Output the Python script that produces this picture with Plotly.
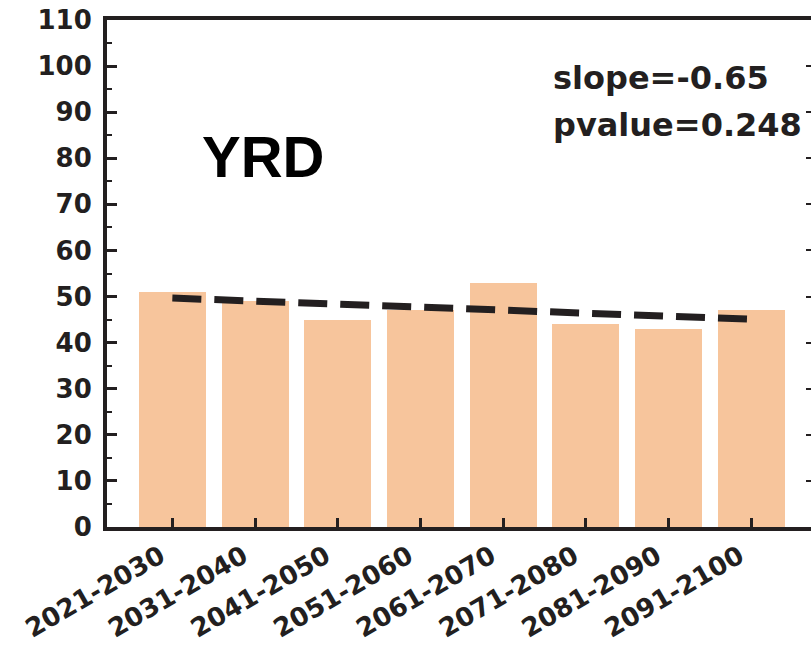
import numpy as np
import plotly.graph_objects as go

categories = ["2021-2030", "2031-2040", "2041-2050", "2051-2060",
              "2061-2070", "2071-2080", "2081-2090", "2091-2100"]
values = [51, 49, 45, 47, 53, 44, 43, 47]
region_label = "YRD"
slope_text = "slope=-0.65"
pvalue_text = "pvalue=0.248"
y_ticks = list(range(0, 111, 10))

DARK = "#231f20"
BAR = "#f7c59c"

idx = np.arange(len(values))
coef = np.polyfit(idx, values, 1)
trend = np.polyval(coef, idx)

fig = go.Figure()
fig.add_trace(go.Bar(x=categories, y=values, marker=dict(color=BAR, line=dict(width=0)),
                     width=0.81, showlegend=False))
fig.add_trace(go.Scatter(x=categories, y=trend, mode="lines",
                         line=dict(color=DARK, width=7, dash="29px,13px"),
                         showlegend=False))
# right-side ticks
fig.add_trace(go.Scatter(x=[categories[0]], y=[0], yaxis="y2", mode="markers",
                         marker=dict(opacity=0), showlegend=False, hoverinfo="skip"))

tickfont = dict(family="DejaVu Sans", size=26, color=DARK, weight="bold")

fig.update_layout(
    width=811, height=650,
    margin=dict(l=107, r=0, t=20, b=123, autoexpand=False),
    paper_bgcolor="white", plot_bgcolor="white",
    bargap=0,
    xaxis=dict(
        type="category", range=[-0.79, 7.72],
        showline=True, linewidth=4, linecolor=DARK, mirror=True,
        ticks="inside", ticklen=9, tickwidth=2.5, tickcolor=DARK,
        tickangle=-30, tickfont=tickfont, showgrid=False, zeroline=False,
        ticklabelshift=-12, automargin=False, ticklabeloverflow="allow",
    ),
    yaxis=dict(
        range=[0, 110], tickvals=y_ticks,
        showline=True, linewidth=4, linecolor=DARK,
        ticks="inside", ticklen=10, tickwidth=2.5, tickcolor=DARK,
        minor=dict(dtick=5, ticks="inside", ticklen=5, tickwidth=2, tickcolor=DARK, showgrid=False),
        tickfont=tickfont, showgrid=False, zeroline=False, ticklabelstandoff=6,
        automargin=False, ticklabeloverflow="allow",
    ),
    yaxis2=dict(
        overlaying="y", side="right", range=[0, 110], tickvals=y_ticks,
        showline=False, ticks="inside", ticklen=5, tickwidth=2, tickcolor=DARK,
        showticklabels=False, showgrid=False, zeroline=False, automargin=False,
    ),
    annotations=[
        dict(text=region_label, xref="paper", yref="y", x=0.132, y=80.4,
             xanchor="left", yanchor="middle", showarrow=False,
             font=dict(family="Liberation Sans", size=58, color="black", weight="bold")),
        dict(text=slope_text, xref="paper", yref="y", x=0.631, y=97.4,
             xanchor="left", yanchor="middle", showarrow=False,
             font=dict(family="DejaVu Sans", size=32, color=DARK, weight="bold")),
        dict(text=pvalue_text, xref="paper", yref="y", x=0.631, y=87.2,
             xanchor="left", yanchor="middle", showarrow=False,
             font=dict(family="DejaVu Sans", size=32, color=DARK, weight="bold")),
    ],
)

fig.write_html("out.html", config={"displayModeBar": False},
               post_script="document.body.style.margin='0px';")
